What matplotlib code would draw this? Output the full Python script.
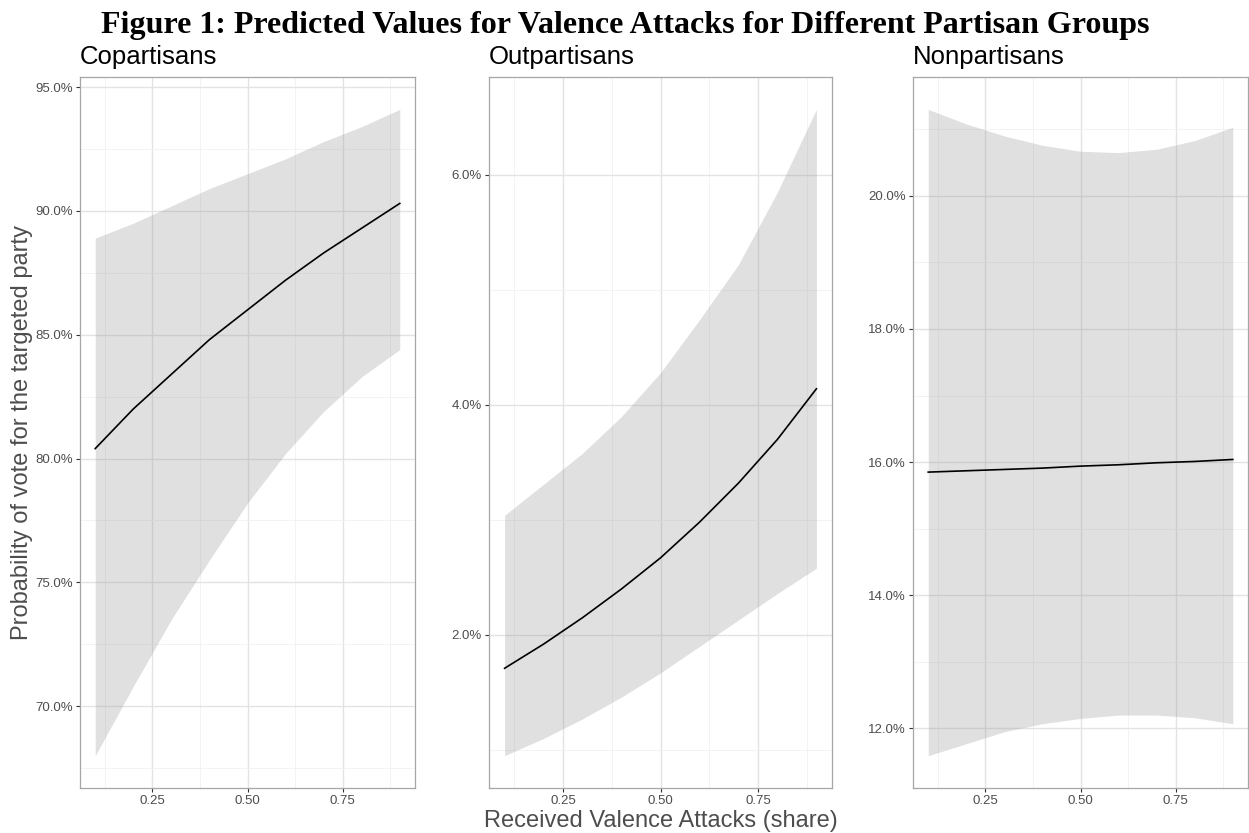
import numpy as np
import matplotlib
matplotlib.use("Agg")
import matplotlib.pyplot as plt
from matplotlib.ticker import FuncFormatter, FixedLocator

# ── Data ─────────────────────────────────────────────────────────────────────
attacks = [0.1, 0.2, 0.3, 0.4, 0.5, 0.6, 0.7, 0.8, 0.9]

panel_titles = ["Copartisans", "Outpartisans", "Nonpartisans"]

# predicted probability (%), lower / upper bound of the ribbon
co_fit = [80.4, 82.0, 83.4, 84.8, 86.0, 87.2, 88.3, 89.3, 90.3]
co_low = [68.0, 70.8, 73.5, 75.9, 78.2, 80.2, 81.9, 83.3, 84.4]
co_high = [88.9, 89.5, 90.2, 90.9, 91.5, 92.1, 92.8, 93.4, 94.1]

out_fit = [1.71, 1.92, 2.15, 2.40, 2.67, 2.98, 3.32, 3.70, 4.14]
out_low = [0.95, 1.10, 1.27, 1.46, 1.67, 1.90, 2.13, 2.36, 2.58]
out_high = [3.04, 3.31, 3.58, 3.90, 4.28, 4.74, 5.22, 5.85, 6.57]

non_fit = [15.85, 15.87, 15.89, 15.91, 15.94, 15.96, 15.99, 16.01, 16.04]
non_low = [11.59, 11.77, 11.95, 12.07, 12.15, 12.20, 12.20, 12.16, 12.07]
non_high = [21.30, 21.08, 20.90, 20.76, 20.67, 20.65, 20.70, 20.83, 21.03]

x_ticks = [0.25, 0.50, 0.75]
x_minor = [0.125, 0.375, 0.625, 0.875]

co_ticks = [70, 75, 80, 85, 90, 95]
co_minor = [67.5, 72.5, 77.5, 82.5, 87.5, 92.5]
out_ticks = [2, 4, 6]
out_minor = [1, 3, 5]
non_ticks = [12, 14, 16, 18, 20]
non_minor = [13, 15, 17, 19, 21]

panels = [
    (co_fit, co_low, co_high, co_ticks, co_minor),
    (out_fit, out_low, out_high, out_ticks, out_minor),
    (non_fit, non_low, non_high, non_ticks, non_minor),
]

# ── Style ────────────────────────────────────────────────────────────────────
plt.rcParams["font.family"] = ["Liberation Sans", "DejaVu Sans"]
TXT_GREY = "#4d4d4d"
GRID_MAJOR = "#e3e3e3"
GRID_MINOR = "#f1f1f1"
BORDER = "#a6a6a6"

fig = plt.figure(figsize=(12.49, 8.33), dpi=100)

# axes rectangles in pixels: (left, right), top=77, bottom=788
W, H = 1249, 833
x_spans = [(80, 415), (489, 832), (913, 1248)]
top_px, bot_px = 77, 788

pct = FuncFormatter(lambda v, pos: f"{v:.1f}%")

for (fit, low, high, yt, ym), (l, r), title in zip(panels, x_spans, panel_titles):
    ax = fig.add_axes([l / W, 1 - bot_px / H, (r - l) / W, (bot_px - top_px) / H])

    ax.fill_between(attacks, low, high, color="#999999", alpha=0.3,
                    linewidth=0, zorder=2)
    ax.plot(attacks, fit, color="black", linewidth=1.2, zorder=3)

    # ggplot-like 5% expansion
    ymin, ymax = min(low), max(high)
    pad = 0.05 * (ymax - ymin)
    ax.set_ylim(ymin - pad, ymax + pad)
    ax.set_xlim(0.06, 0.94)

    ax.xaxis.set_major_locator(FixedLocator(x_ticks))
    ax.xaxis.set_minor_locator(FixedLocator(x_minor))
    ax.yaxis.set_major_locator(FixedLocator(yt))
    ax.yaxis.set_minor_locator(FixedLocator(ym))
    ax.xaxis.set_major_formatter(FuncFormatter(lambda v, pos: f"{v:.2f}"))
    ax.yaxis.set_major_formatter(pct)

    ax.grid(True, which="major", color=GRID_MAJOR, linewidth=1.0, zorder=0)
    ax.grid(True, which="minor", color=GRID_MINOR, linewidth=0.6, zorder=0)
    ax.set_axisbelow(True)

    ax.tick_params(axis="both", which="major", length=3, width=0.8,
                   color="#333333", labelcolor=TXT_GREY, labelsize=9.5, pad=2)
    ax.tick_params(axis="both", which="minor", length=0)
    for sp in ax.spines.values():
        sp.set_color(BORDER)
        sp.set_linewidth(0.9)

    fig.text(l / W, 1 - 64 / H, title, fontsize=18.5, ha="left",
             va="baseline", color="black")

# shared axis titles
fig.text(22 / W, 1 - 432.5 / H, "Probability of vote for the targeted party",
         rotation=90, ha="center", va="center", fontsize=17, color=TXT_GREY)
fig.text(660.5 / W, 1 - 821 / H, "Received Valence Attacks (share)",
         ha="center", va="center", fontsize=17, color=TXT_GREY)

fig.text(625 / W, 1 - 33 / H,
         "Figure 1: Predicted Values for Valence Attacks for Different Partisan Groups",
         ha="center", va="baseline", fontsize=23, fontweight="bold",
         family=["Liberation Serif", "DejaVu Serif"])

fig.savefig("out.png", dpi=100)
plt.close(fig)
